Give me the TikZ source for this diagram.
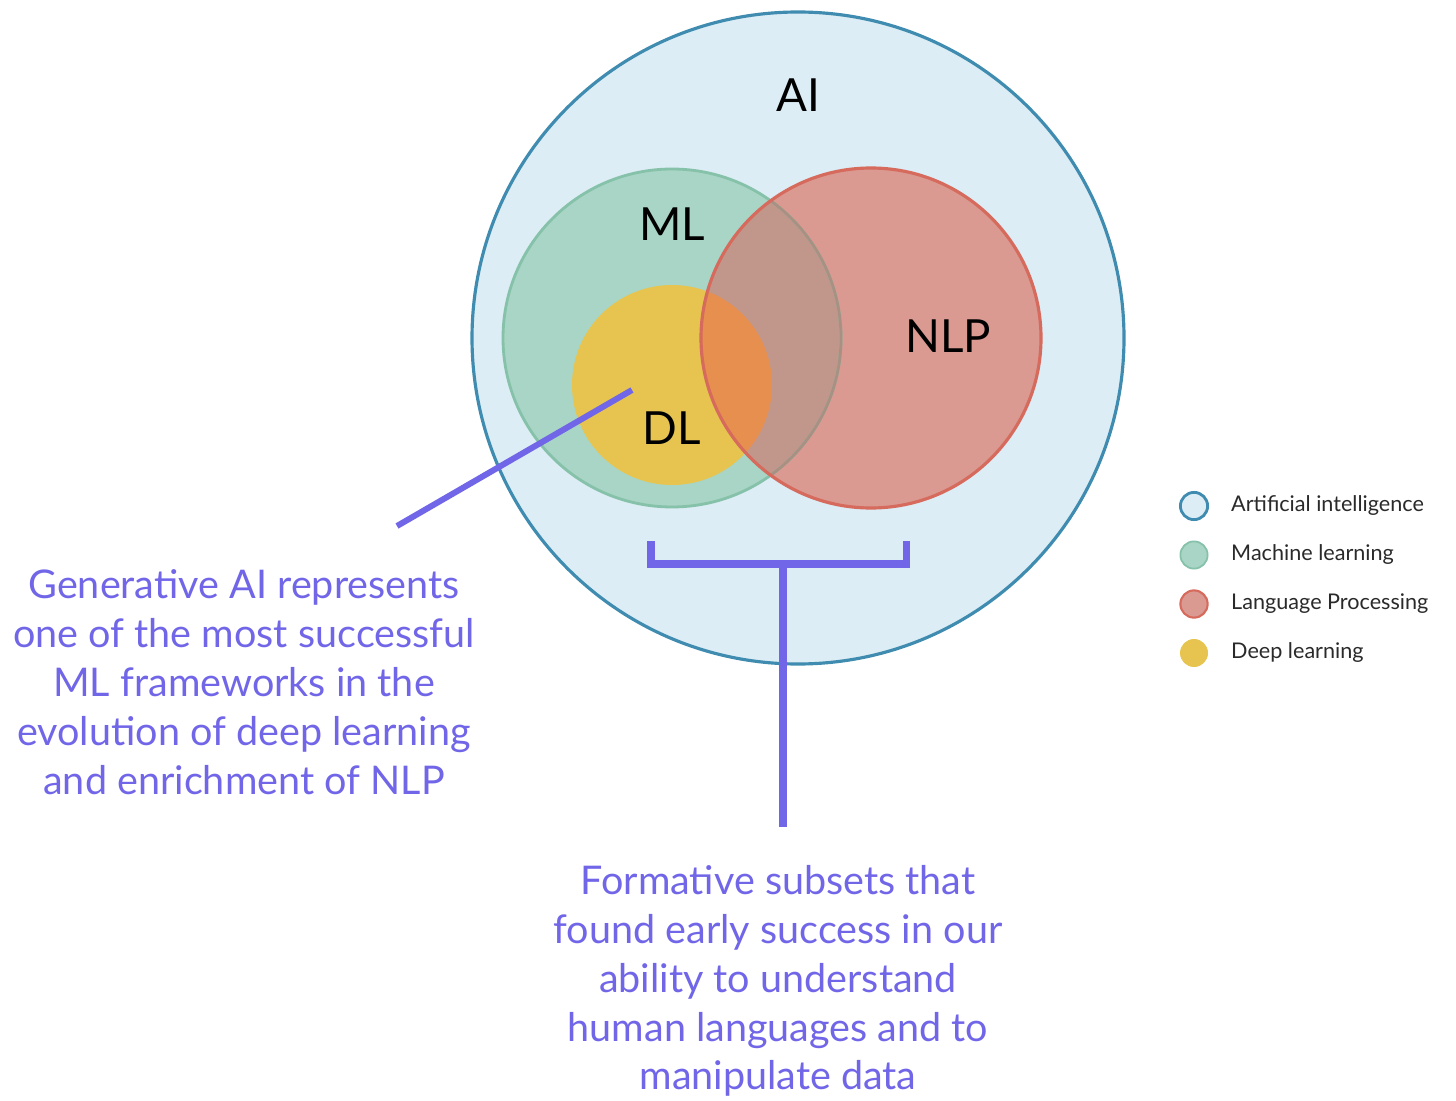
\documentclass[tikz,border=0pt]{standalone}
\usepackage{fontspec}
\setmainfont{Lato}
\newfontfamily\lblfont{Lato}
\definecolor{aibg}{HTML}{DCEDF5}
\definecolor{aistroke}{HTML}{3F8CB0}
\definecolor{mlfill}{HTML}{A8D5C5}
\definecolor{mlstroke}{HTML}{86C1AA}
\definecolor{nlpfill}{HTML}{DA9A91}
\definecolor{nlpstroke}{HTML}{D66A5C}
\definecolor{dlfill}{HTML}{E6C44F}
\definecolor{dlnlp}{HTML}{E68F4F}
\definecolor{mlnlp}{HTML}{C1978B}
\definecolor{mlinside}{HTML}{A89082}
\definecolor{purp}{HTML}{7166E8}
\definecolor{legtext}{HTML}{2A2A2A}
\tikzset{
  vlabel/.style={font=\lblfont\fontsize{26}{30}\selectfont, text=black},
  note/.style={font=\fontsize{22.5}{27.8}\selectfont, text=purp, align=center},
  pline/.style={draw=purp, line width=4pt},
  legdot/.style={circle, minimum size=15.5pt, inner sep=0pt},
  legtxt/.style={anchor=west, font=\fontsize{12.3}{14}\selectfont, text=legtext},
}
\begin{document}
\begin{tikzpicture}[x=0.02cm,y=-0.02cm]
\useasboundingbox (0,0) rectangle (1456,1101);
% AI circle
\fill[aibg] (798,338) circle (326);
\draw[aistroke, line width=1.8pt] (798,338) circle (326);
% ML
\fill[mlfill] (672,338) circle (169);
% DL
\fill[dlfill] (672,385) circle (100);
% NLP
\fill[nlpfill] (871,338) circle (170);
% intersections
\begin{scope}
  \clip (871,338) circle (170);
  \fill[mlnlp] (672,338) circle (169);
  \fill[dlnlp] (672,385) circle (100);
\end{scope}
% ML outline
\draw[mlstroke, line width=1.6pt] (672,338) circle (169);
\begin{scope}
  \clip (871,338) circle (170);
  \draw[mlinside, line width=1.6pt] (672,338) circle (169);
\end{scope}
\draw[nlpstroke, line width=1.8pt] (871,338) circle (170);
% labels
\node[vlabel] (ai) at (798,95) {AI};
\node[vlabel] (ml) at (672,224) {ML};
\node[vlabel] (nlp) at (948,336) {NLP};
\node[vlabel] (dl) at (672,428) {DL};
% notes
\node[note] (n1) at (244,682) {Generative AI represents\\one of the most successful\\ML frameworks in the\\evolution of deep learning\\and enrichment of NLP};
\node[note] (n2) at (778,981) {Formative subsets that\\found early success in our\\ability to understand\\human languages and to\\manipulate data};
% leader line
\coordinate (dlpt) at (632,390);
\coordinate (lead) at (397,526);
\draw[pline, line width=3.4pt] (dlpt) -- (lead);
% bracket
\coordinate (bl) at (651,541);
\coordinate (br) at (906,541);
\coordinate (bm) at (783,564);
\coordinate (stem) at (783,827);
\draw[pline] (bl) |- (bm) -| (br);
\draw[pline] (bm) -- (stem);
% legend
\node[legdot, fill=aibg, draw=aistroke, line width=1.6pt] (l1) at (1194,506) {};
\node[legdot, fill=mlfill, draw=mlstroke, line width=1pt] (l2) at (1194,555) {};
\node[legdot, fill=nlpfill, draw=nlpstroke, line width=1.2pt] (l3) at (1194,604) {};
\node[legdot, fill=dlfill, draw=dlfill] (l4) at (1194,653) {};
\node[legtxt] (t1) at (1225,506) {Artificial intelligence};
\node[legtxt] (t2) at (1225,555) {Machine learning};
\node[legtxt] (t3) at (1225,604) {Language Processing};
\node[legtxt] (t4) at (1225,653) {Deep learning};
\end{tikzpicture}
\end{document}
